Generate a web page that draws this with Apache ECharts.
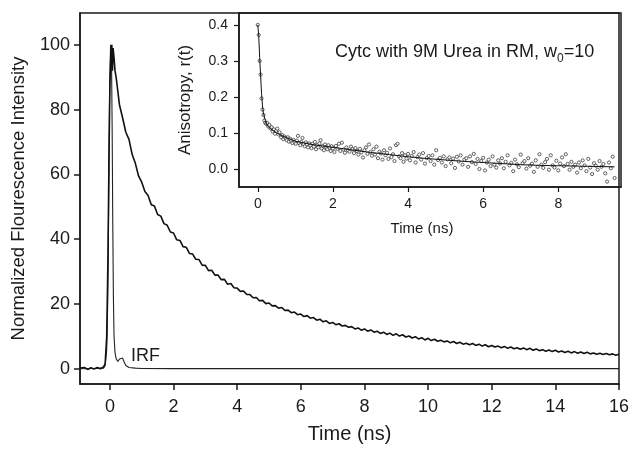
<!DOCTYPE html>
<html>
<head>
<meta charset="utf-8">
<script src="https://cdn.jsdelivr.net/npm/echarts@6/dist/echarts.min.js"></script>
<style>html,body{margin:0;padding:0;background:#fff}#c{width:632px;height:449px}</style>
</head>
<body>
<div id="c"></div>
<script>
// ---- Data ----
const mainXTicks = [0, 2, 4, 6, 8, 10, 12, 14, 16];
const mainYTicks = [0, 20, 40, 60, 80, 100];
const insetXTicks = [0, 2, 4, 6, 8];
const insetYTicks = [0.0, 0.1, 0.2, 0.3, 0.4];

// Fluorescence decay, [time ns, normalized intensity]
const decay = [
[-0.94,0.2],[-0.9,-0.3],[-0.8,0.4],[-0.7,-0.2],[-0.6,0.3],[-0.5,-0.1],[-0.4,0.4],[-0.3,0.0],[-0.2,0.6],
[-0.15,1.5],[-0.1,10],[-0.06,35],[-0.03,65],[0.0,88],[0.03,97],[0.06,100],[0.08,92],[0.1,99],[0.13,96],[0.16,92],
[0.2,89.6],[0.3,81.5],[0.4,77.4],[0.5,73.0],[0.6,70.8],[0.7,66.1],[0.8,63.4],[0.9,59.5],[1.0,57.6],
[1.1,54.7],[1.2,53.5],[1.3,50.6],[1.4,50.2],[1.5,47.6],[1.6,47.1],[1.7,44.8],[1.8,44.3],[1.9,42.2],[2.0,41.9],
[2.1,39.8],[2.2,39.6],[2.3,37.7],[2.4,37.5],[2.5,35.6],[2.6,35.4],[2.7,33.8],[2.8,33.7],[2.9,32.0],[3.0,31.9],
[3.1,30.3],[3.2,30.4],[3.3,28.9],[3.4,28.9],[3.5,27.5],[3.6,27.6],[3.7,26.1],[3.8,26.3],[3.9,25.0],[4.0,24.9],
[4.1,23.9],[4.2,24.0],[4.3,22.9],[4.4,22.9],[4.5,21.9],[4.6,22.0],[4.7,21.0],[4.8,21.1],[4.9,20.1],[5.0,20.3],
[5.1,19.4],[5.2,19.5],[5.3,18.7],[5.4,18.9],[5.5,18.0],[5.6,18.1],[5.7,17.3],[5.8,17.5],[5.9,16.7],[6.0,16.9],
[6.1,16.1],[6.2,16.4],[6.3,15.6],[6.4,15.8],[6.5,15.0],[6.6,15.3],[6.7,14.5],[6.8,14.8],[6.9,14.0],[7.0,14.3],
[7.1,13.6],[7.2,13.9],[7.3,13.2],[7.4,13.4],[7.5,12.8],[7.6,13.0],[7.7,12.3],[7.8,12.6],[7.9,11.9],[8.0,12.3],
[8.1,11.6],[8.2,12.0],[8.3,11.3],[8.4,11.6],[8.5,10.9],[8.6,11.3],[8.7,10.6],[8.8,11.0],[8.9,10.3],[9.0,10.8],
[9.1,10.1],[9.2,10.5],[9.3,9.8],[9.4,10.1],[9.5,9.5],[9.6,9.9],[9.7,9.2],[9.8,9.6],[9.9,8.9],[10.0,9.4],
[10.1,8.7],[10.2,9.1],[10.3,8.5],[10.4,8.8],[10.5,8.3],[10.6,8.6],[10.7,8.0],[10.8,8.4],[10.9,7.8],[11.0,8.2],
[11.1,7.6],[11.2,7.9],[11.3,7.4],[11.4,7.8],[11.5,7.2],[11.6,7.6],[11.7,7.0],[11.8,7.4],[11.9,6.8],[12.0,7.2],
[12.1,6.7],[12.2,7.0],[12.3,6.5],[12.4,6.9],[12.5,6.3],[12.6,6.7],[12.7,6.2],[12.8,6.5],[12.9,6.0],[13.0,6.4],
[13.1,5.9],[13.2,6.3],[13.3,5.7],[13.4,6.1],[13.5,5.6],[13.6,5.9],[13.7,5.4],[13.8,5.8],[13.9,5.3],[14.0,5.7],
[14.1,5.2],[14.2,5.5],[14.3,5.0],[14.4,5.4],[14.5,4.9],[14.6,5.3],[14.7,4.8],[14.8,5.2],[14.9,4.7],[15.0,5.1],
[15.1,4.6],[15.2,4.9],[15.3,4.5],[15.4,4.8],[15.5,4.4],[15.6,4.7],[15.7,4.3],[15.8,4.6],[15.9,4.2],[16.0,4.5]
];

// Instrument response function, [time ns, normalized intensity]
const irf = [
[-0.94,0],[-0.5,0.1],[-0.2,0.2],[-0.15,1.0],[-0.1,6],[-0.07,20],[-0.04,50],[-0.01,85],[0.02,100],[0.05,96],
[0.07,75],[0.09,45],[0.11,22],[0.13,10],[0.16,5],[0.2,3],[0.25,2.3],[0.3,3.0],[0.35,3.6],[0.4,3.3],[0.45,2.0],
[0.5,1.0],[0.6,0.4],[0.8,0.2],[1.0,0.1],[2.0,0.05],[16.0,0.05]
];

// Anisotropy data points, [time ns, r(t)]
const aniso = [
[0,0.40],[0.025,0.372],[0.05,0.30],[0.075,0.262],[0.1,0.196],[0.125,0.165],[0.15,0.15],[0.175,0.135],[0.2,0.128],[0.225,0.125],
[0.25,0.128],[0.28,0.118],[0.31,0.122],[0.34,0.112],[0.37,0.116],[0.40,0.104],[0.43,0.110],[0.46,0.098],[0.49,0.106],[0.52,0.112],
[0.55,0.096],[0.58,0.102],[0.62,0.088],[0.65,0.094],[0.68,0.083],[0.71,0.090],[0.74,0.086],[0.77,0.080],[0.80,0.088],[0.83,0.076],
[0.86,0.084],[0.89,0.078],[0.92,0.072],[0.95,0.081],[0.98,0.074],[1.01,0.070],[1.04,0.079],[1.07,0.092],[1.10,0.072],[1.13,0.066],
[1.16,0.075],[1.19,0.086],[1.22,0.069],[1.25,0.063],[1.28,0.074],[1.31,0.068],[1.34,0.060],[1.37,0.071],[1.40,0.065],[1.43,0.058],
[1.46,0.070],[1.49,0.062],[1.52,0.075],[1.55,0.055],[1.58,0.066],[1.61,0.060],[1.64,0.071],[1.67,0.080],[1.70,0.057],[1.73,0.064],
[1.76,0.052],[1.79,0.068],[1.82,0.061],[1.85,0.055],[1.88,0.066],[1.91,0.059],[1.94,0.050],[1.97,0.063],[2.00,0.057],[2.04,0.047],
[2.08,0.064],[2.12,0.056],[2.16,0.070],[2.20,0.050],[2.24,0.073],[2.28,0.054],[2.32,0.045],[2.36,0.060],[2.40,0.052],[2.44,0.048],
[2.48,0.062],[2.52,0.055],[2.56,0.044],[2.60,0.058],[2.64,0.050],[2.68,0.040],[2.72,0.056],[2.76,0.046],[2.80,0.032],[2.84,0.052],
[2.88,0.060],[2.92,0.042],[2.96,0.068],[3.00,0.047],[3.04,0.037],[3.08,0.055],[3.12,0.040],[3.16,0.062],[3.20,0.030],[3.24,0.048],
[3.28,0.043],[3.32,0.026],[3.36,0.052],[3.40,0.038],[3.44,0.045],[3.48,0.028],[3.52,0.057],[3.56,0.033],[3.60,0.041],[3.64,0.022],
[3.68,0.066],[3.72,0.070],[3.76,0.035],[3.80,0.030],[3.84,0.044],[3.88,0.020],[3.92,0.038],[3.96,0.029],[4.00,0.042],[4.05,0.024],
[4.10,0.036],[4.15,0.047],[4.20,0.018],[4.25,0.033],[4.30,0.040],[4.35,0.026],[4.40,0.044],[4.45,0.015],[4.50,0.030],[4.55,0.036],
[4.60,0.022],[4.65,0.038],[4.70,0.012],[4.75,0.052],[4.80,0.025],[4.85,0.031],[4.90,0.018],[4.95,0.035],[5.00,0.008],[5.05,0.027],
[5.10,0.032],[5.15,0.016],[5.20,0.029],[5.25,0.003],[5.30,0.034],[5.35,0.021],[5.40,0.038],[5.45,0.012],[5.50,0.026],[5.55,0.030],
[5.60,0.006],[5.65,0.035],[5.70,0.019],[5.75,0.042],[5.80,0.014],[5.85,0.028],[5.90,0.000],[5.95,0.022],[6.00,0.031],[6.05,-0.004],
[6.10,0.018],[6.15,0.026],[6.20,0.008],[6.25,0.035],[6.30,0.012],[6.35,0.004],[6.40,0.024],[6.45,0.015],[6.50,0.030],[6.55,0.002],
[6.60,0.020],[6.65,0.038],[6.70,0.010],[6.75,0.017],[6.80,-0.006],[6.85,0.026],[6.90,0.013],[6.95,0.005],[7.00,0.040],[7.05,0.016],
[7.10,0.022],[7.15,0.001],[7.20,0.030],[7.25,0.009],[7.30,0.015],[7.35,-0.008],[7.40,0.024],[7.45,0.006],[7.50,0.041],[7.55,0.012],
[7.60,0.003],[7.65,0.019],[7.70,0.028],[7.75,-0.002],[7.80,0.038],[7.85,0.010],[7.90,0.004],[7.95,0.023],[8.00,-0.004],[8.05,0.015],
[8.10,0.032],[8.15,0.008],[8.20,0.041],[8.25,0.014],[8.30,-0.002],[8.35,0.020],[8.40,0.006],[8.45,0.012],[8.50,-0.010],[8.55,0.018],
[8.60,0.002],[8.65,0.024],[8.70,0.010],[8.75,-0.006],[8.80,0.028],[8.85,0.004],[8.90,-0.014],[8.95,0.016],[9.00,0.009],[9.05,-0.002],
[9.10,0.022],[9.15,0.006],[9.20,0.014],[9.25,-0.012],[9.30,-0.035],[9.35,0.018],[9.40,0.002],[9.45,0.034],[9.50,-0.025]
];

// Anisotropy fit curve, [time ns, r(t)]
const anisoFit = [
[0,0.40],[0.025,0.37],[0.05,0.31],[0.075,0.26],[0.1,0.21],[0.125,0.175],[0.15,0.155],[0.2,0.135],[0.25,0.122],[0.3,0.115],
[0.4,0.107],[0.5,0.10],[0.7,0.09],[1.0,0.077],[1.5,0.067],[2.0,0.06],[2.5,0.053],[3.0,0.046],[3.5,0.04],[4.0,0.034],
[4.5,0.029],[5.0,0.025],[5.5,0.021],[6.0,0.018],[6.5,0.015],[7.0,0.012],[7.5,0.01],[8.0,0.009],[8.5,0.008],[9.0,0.007],[9.5,0.006]
];

const FONT = '"Liberation Sans", Arial, Helvetica, sans-serif';
const INK = '#1a1a1a';

const chart = echarts.init(document.getElementById('c'), null, {renderer: 'canvas'});
chart.setOption({
  animation: false,
  backgroundColor: '#fff',
  textStyle: {fontFamily: FONT, color: INK},
  grid: [
    {left: 80, right: 11, top: 13, bottom: 61, show: true, borderColor: INK, borderWidth: 1.5, backgroundColor: 'transparent'},
    {left: 239, right: 11, top: 13, bottom: 262, show: true, borderColor: INK, borderWidth: 1.5, backgroundColor: 'transparent'}
  ],
  xAxis: [
    {gridIndex: 0, type: 'value', min: -0.94, max: 16,
     name: 'Time (ns)', nameLocation: 'middle', nameGap: 40,
     nameTextStyle: {fontSize: 20, color: INK, fontFamily: FONT},
     axisLine: {show: true, onZero: false, lineStyle: {color: INK, width: 1.5}},
     axisTick: {show: true, inside: false, length: 6, lineStyle: {color: INK, width: 1.5}, customValues: mainXTicks},
     axisLabel: {fontSize: 18, color: INK, margin: 14, fontFamily: FONT, customValues: mainXTicks},
     splitLine: {show: false}},
    {gridIndex: 1, type: 'value', min: -0.5, max: 9.67,
     name: 'Time (ns)', nameLocation: 'middle', nameGap: 34,
     nameTextStyle: {fontSize: 15, color: INK, fontFamily: FONT, padding: [0, 16, 0, 0]},
     axisLine: {show: true, onZero: false, lineStyle: {color: INK, width: 1.5}},
     axisTick: {show: true, inside: false, length: 5, lineStyle: {color: INK, width: 1.2}, customValues: insetXTicks},
     axisLabel: {fontSize: 14, color: INK, margin: 10, fontFamily: FONT, customValues: insetXTicks},
     splitLine: {show: false}}
  ],
  yAxis: [
    {gridIndex: 0, type: 'value', min: -4.7, max: 109.8,
     name: 'Normalized Flourescence Intensity', nameLocation: 'middle', nameGap: 52,
     nameTextStyle: {fontSize: 18.5, color: INK, fontFamily: FONT},
     axisLine: {show: true, onZero: false, lineStyle: {color: INK, width: 1.5}},
     axisTick: {show: true, inside: false, length: 6, lineStyle: {color: INK, width: 1.5}, customValues: mainYTicks},
     axisLabel: {fontSize: 18, color: INK, margin: 10, fontFamily: FONT, customValues: mainYTicks},
     splitLine: {show: false}},
    {gridIndex: 1, type: 'value', min: -0.05, max: 0.433,
     name: 'Anisotropy, r(t)', nameLocation: 'middle', nameGap: 45,
     nameTextStyle: {fontSize: 17, color: INK, fontFamily: FONT},
     axisLine: {show: true, onZero: false, lineStyle: {color: INK, width: 1.5}},
     axisTick: {show: true, inside: false, length: 5, lineStyle: {color: INK, width: 1.2}, customValues: insetYTicks},
     axisLabel: {fontSize: 14, color: INK, margin: 11, fontFamily: FONT, customValues: insetYTicks,
                 formatter: v => v.toFixed(1)},
     splitLine: {show: false}}
  ],
  series: [
    {type: 'line', xAxisIndex: 0, yAxisIndex: 0, data: irf, showSymbol: false, symbol: 'none',
     lineStyle: {color: '#222', width: 1.1}, z: 2},
    {type: 'line', xAxisIndex: 0, yAxisIndex: 0, data: decay, showSymbol: false, symbol: 'none',
     lineStyle: {color: '#111', width: 1.6}, z: 3},
    {type: 'scatter', xAxisIndex: 1, yAxisIndex: 1, data: aniso, symbol: 'circle', symbolSize: 3.2,
     itemStyle: {color: '#ffffff', borderColor: '#2a2a2a', borderWidth: 0.9}, z: 3},
    {type: 'line', xAxisIndex: 1, yAxisIndex: 1, data: anisoFit, showSymbol: false, symbol: 'none',
     lineStyle: {color: '#111', width: 1}, z: 4}
  ],
  graphic: [
    {type: 'text', left: 131, top: 347, style: {text: 'IRF', fontSize: 18, fill: INK, fontFamily: FONT}},
    {type: 'text', left: 335, top: 43, style: {
      text: '{a|Cytc with 9M Urea in RM, w}{s|0}{a|=10}',
      fontFamily: FONT,
      rich: {
        a: {fontSize: 18, fill: INK, fontFamily: FONT, lineHeight: 22, verticalAlign: 'top'},
        s: {fontSize: 12, fill: INK, fontFamily: FONT, lineHeight: 22, padding: [10, 0, 0, 0], verticalAlign: 'top'}
      }
    }}
  ]
});
</script>
</body>
</html>
